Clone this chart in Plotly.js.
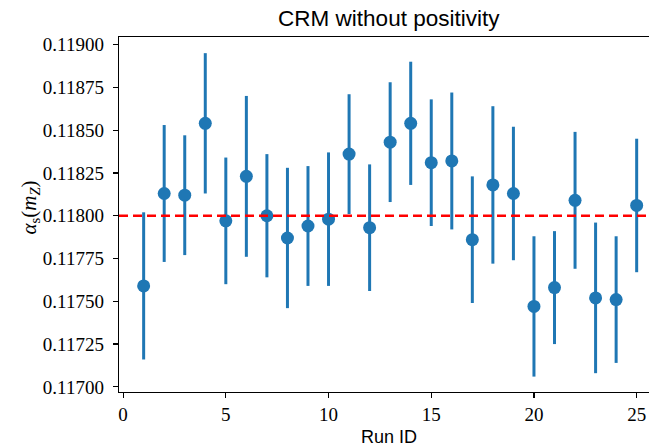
<!DOCTYPE html>
<html>
<head>
<meta charset="utf-8">
<script src="https://cdn.plot.ly/plotly-3.0.1.min.js"></script>
<style>
  html, body { margin: 0; padding: 0; background: #fff; overflow: hidden; }
  #chart { width: 649px; height: 448px; }
</style>
</head>
<body>
<div id="chart"></div>
<script>
// Fitted alpha_s(m_Z) for each run, with symmetric uncertainties
const runIds = [1, 2, 3, 4, 5, 6, 7, 8, 9, 10, 11, 12, 13, 14, 15, 16, 17, 18, 19, 20, 21, 22, 23, 24, 25];
const alphaS = [0.11759, 0.11813, 0.11812, 0.11854, 0.11797, 0.11823, 0.11800, 0.11787, 0.11794, 0.11798,
                0.11836, 0.11793, 0.11843, 0.11854, 0.11831, 0.11832, 0.11786, 0.11818, 0.11813, 0.11747,
                0.11758, 0.11809, 0.11752, 0.11751, 0.11806];
const alphaErr = [0.00043, 0.00040, 0.00035, 0.00041, 0.00037, 0.00047, 0.00036, 0.00041, 0.00035, 0.00039,
                  0.00035, 0.00037, 0.00035, 0.00036, 0.00037, 0.00040, 0.00037, 0.00046, 0.00039, 0.00041,
                  0.00033, 0.00040, 0.00044, 0.00037, 0.00039];
const referenceValue = 0.118;
const yTicks = [0.117, 0.11725, 0.1175, 0.11775, 0.118, 0.11825, 0.1185, 0.11875, 0.119];
const xTicks = [0, 5, 10, 15, 20, 25];

const blue = '#1f77b4';
const serif = 'Liberation Serif, serif';
const sans = 'Liberation Sans, Arial, sans-serif';

const trace = {
  x: runIds,
  y: alphaS,
  type: 'scatter',
  mode: 'markers',
  marker: { color: blue, size: 13 },
  error_y: { type: 'data', array: alphaErr, visible: true, color: blue, thickness: 3, width: 0 },
  hoverinfo: 'x+y'
};

const layout = {
  width: 649,
  height: 448,
  margin: { l: 119, r: 0, t: 37, b: 56 },
  paper_bgcolor: '#fff',
  plot_bgcolor: '#fff',
  showlegend: false,
  xaxis: {
    range: [-0.2, 25.6],
    tickvals: xTicks,
    ticktext: xTicks.map(String),
    showgrid: false, zeroline: false,
    showline: true, linecolor: '#000', linewidth: 1.3, mirror: true,
    ticks: 'outside', ticklen: 5, tickwidth: 1.2, tickcolor: '#000',
    tickfont: { family: serif, size: 19, color: '#000' }
  },
  yaxis: {
    range: [0.116970, 0.1190444],
    tickvals: yTicks,
    ticktext: yTicks.map(v => v.toFixed(5)),
    showgrid: false, zeroline: false,
    showline: true, linecolor: '#000', linewidth: 1.3, mirror: false,
    ticks: 'outside', ticklen: 5, tickwidth: 1.2, tickcolor: '#000',
    ticklabelstandoff: 5,
    tickfont: { family: serif, size: 19, color: '#000' }
  },
  title: {
    text: 'CRM without positivity',
    font: { family: sans, size: 22.5, color: '#000' },
    xref: 'paper', x: 0.509, xanchor: 'center',
    yref: 'container', y: 1 - 18 / 448, yanchor: 'middle'
  },
  annotations: [
    {
      text: 'Run ID', xref: 'paper', yref: 'paper', x: 0.509, y: 0,
      xanchor: 'center', yanchor: 'middle', yshift: -45, showarrow: false,
      font: { family: sans, size: 18, color: '#000' }
    },
    {
      text: '<i>α</i><sub>s</sub>(<i>m</i><sub><i>Z</i></sub>)', xref: 'paper', yref: 'paper', x: 0, y: 0.5,
      xanchor: 'center', yanchor: 'middle', xshift: -90, yshift: 7, textangle: -90, showarrow: false,
      font: { family: serif, size: 21, color: '#000' }
    }
  ],
  shapes: [
    {
      type: 'line', xref: 'paper', x0: 0, x1: 1, yref: 'y', y0: referenceValue, y1: referenceValue,
      line: { color: '#ff0000', width: 2.6, dash: '9px,5px' }, layer: 'above'
    }
  ]
};

Plotly.newPlot('chart', [trace], layout, { displayModeBar: false, staticPlot: true });
</script>
</body>
</html>
